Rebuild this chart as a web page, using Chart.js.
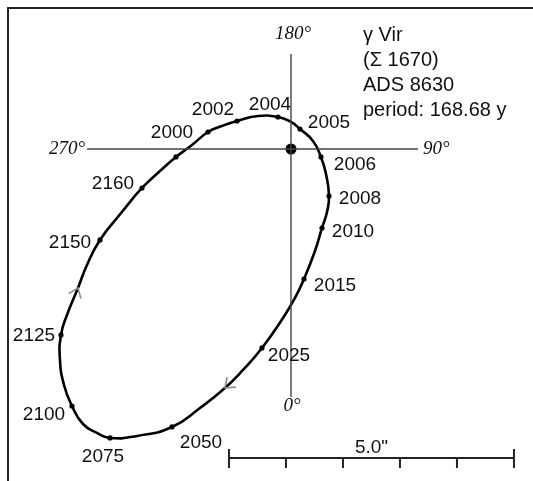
<!DOCTYPE html>
<html>
<head>
<meta charset="utf-8">
<script src="https://cdn.jsdelivr.net/npm/chart.js@4.4.0/dist/chart.umd.min.js"></script>
<style>
    body { margin: 0; background: #fff; }
    #wrap { position: relative; width: 533px; height: 481px; }
</style>
</head>
<body>
<div id="wrap"><canvas id="orbitChart"></canvas></div>
<script>
// companion positions in arcsec from the primary (x toward 90°, y toward 180°)
var years = ['2000', '2002', '2004', '2005', '2006', '2008', '2010', '2015', '2025', '2050', '2075', '2100', '2125', '2150', '2160', ''];
var sepX = [-1.456, -0.947, -0.228, 0.158, 0.526, 0.667, 0.544, 0.228, -0.509, -2.088, -3.175, -3.842, -4.035, -3.351, -2.614, -2.018];
var sepY = [0.298, 0.491, 0.561, 0.351, -0.140, -0.825, -1.386, -2.281, -3.491, -4.877, -5.070, -4.509, -3.263, -1.596, -0.684, -0.140];

// outline of the apparent orbit
var orbitX = [-2.982, -2.614, -2.298, -2.018, -1.737, -1.456, -1.211, -0.947, -0.579, -0.228, 0.000, 0.158, 0.386, 0.526, 0.614, 0.667, 0.632, 0.544, 0.421, 0.228,
              0.070, -0.140, -0.509, -0.842, -1.158, -1.596, -2.088, -2.702, -3.175, -3.404, -3.649, -3.842, -3.982, -4.053, -4.035, -3.930, -3.737, -3.579, -3.351, -2.982];
var orbitY = [-1.123, -0.684, -0.386, -0.140, 0.070, 0.298, 0.404, 0.491, 0.579, 0.561, 0.474, 0.351, 0.140, -0.140, -0.439, -0.825, -1.105, -1.386, -1.789, -2.281,
              -2.614, -2.965, -3.491, -3.877, -4.193, -4.544, -4.877, -5.035, -5.070, -4.982, -4.825, -4.509, -4.140, -3.702, -3.263, -2.912, -2.439, -2.035, -1.596, -1.123];

// position-angle cross and scale bar (arcsec)
var crossV = [1.667, -4.351];
var crossH = [-3.579, 2.228];
var barStart = -1.088;
var barY = -5.421;
var barTicks = [0, 1, 2, 3, 4, 5];
var angleLabels = ['180°', '270°', '90°', '0°'];
var infoLines = ['γ Vir', '(Σ 1670)', 'ADS 8630', 'period: 168.68 y'];

// where direction arrows sit on the outline
var arrowIdx = [24, 36];

// label offsets from their dots, px
var labelDx = [-36, -24, -8, 29, 34, 31, 31, 31, 27, 29, -7, -28, -27, -30, -29, 0];
var labelDy = [0, -12, -13, -7, 7, 2, 3, 6, 7, 15, 18, 8, 0, 2, -5, 0];

function pts(xs, ys) {
    return xs.map(function (x, i) { return { x: x, y: ys[i] }; });
}

var decor = {
    id: 'decor',
    afterDatasetsDraw: function (chart) {
        var ctx = chart.ctx;
        var sx = chart.scales.x, sy = chart.scales.y;
        ctx.save();

        // frame
        ctx.strokeStyle = '#222';
        ctx.lineWidth = 2;
        ctx.strokeRect(8, 8, 700, 700);

        // year labels
        ctx.fillStyle = '#111';
        ctx.font = '19px "Liberation Sans", Arial, sans-serif';
        ctx.textAlign = 'center';
        ctx.textBaseline = 'middle';
        years.forEach(function (yr, i) {
            if (!yr) return;
            ctx.fillText(yr, sx.getPixelForValue(sepX[i]) + labelDx[i], sy.getPixelForValue(sepY[i]) + labelDy[i] + 1);
        });

        // angle labels
        ctx.font = 'italic 19px "Liberation Serif", "Times New Roman", serif';
        var cx = sx.getPixelForValue(0), cy = sy.getPixelForValue(0);
        ctx.fillText(angleLabels[0], cx + 2, sy.getPixelForValue(crossV[0]) - 20);
        ctx.fillText(angleLabels[3], cx + 1, sy.getPixelForValue(crossV[1]) + 9);
        ctx.textAlign = 'right';
        ctx.fillText(angleLabels[1], sx.getPixelForValue(crossH[0]) - 2, cy);
        ctx.textAlign = 'left';
        ctx.fillText(angleLabels[2], sx.getPixelForValue(crossH[1]) + 5, cy);

        // info block
        ctx.font = '20px "Liberation Sans", Arial, sans-serif';
        ctx.textBaseline = 'alphabetic';
        infoLines.forEach(function (t, i) {
            ctx.fillText(t, 363, 41 + i * 25);
        });

        // scale bar ticks and label
        ctx.strokeStyle = '#222';
        ctx.lineWidth = 2;
        var by = sy.getPixelForValue(barY);
        barTicks.forEach(function (t, i) {
            var bx = sx.getPixelForValue(barStart + t);
            var end = (i === 0 || i === barTicks.length - 1);
            ctx.beginPath();
            ctx.moveTo(bx, end ? by - 9 : by);
            ctx.lineTo(bx, by + 10);
            ctx.stroke();
        });
        ctx.font = '19px "Liberation Sans", Arial, sans-serif';
        ctx.textAlign = 'center';
        ctx.textBaseline = 'middle';
        ctx.fillStyle = '#111';
        ctx.fillText('5.0"', sx.getPixelForValue(barStart + 2.5), by - 10);

        // direction arrows
        ctx.strokeStyle = '#8a8a8a';
        ctx.lineWidth = 1.6;
        arrowIdx.forEach(function (k) {
            var x = sx.getPixelForValue(orbitX[k]), y = sy.getPixelForValue(orbitY[k]);
            var ax = sx.getPixelForValue(orbitX[k - 1]), ay = sy.getPixelForValue(orbitY[k - 1]);
            var bx = sx.getPixelForValue(orbitX[k + 1]), by2 = sy.getPixelForValue(orbitY[k + 1]);
            var ang = Math.atan2(by2 - ay, bx - ax);
            var len = 11, spread = 0.65;
            ctx.beginPath();
            ctx.moveTo(x - len * Math.cos(ang - spread), y - len * Math.sin(ang - spread));
            ctx.lineTo(x, y);
            ctx.lineTo(x - len * Math.cos(ang + spread), y - len * Math.sin(ang + spread));
            ctx.stroke();
        });

        ctx.restore();
    }
};

var ctx = document.getElementById('orbitChart').getContext('2d');
var orbitChart = new Chart(ctx, {
    type: 'scatter',
    data: {
        datasets: [
            {
                data: [{ x: 0, y: crossV[0] }, { x: 0, y: crossV[1] }],
                showLine: true, borderColor: '#444', borderWidth: 1.4, pointRadius: 0
            },
            {
                data: [{ x: crossH[0], y: 0 }, { x: crossH[1], y: 0 }],
                showLine: true, borderColor: '#444', borderWidth: 1.4, pointRadius: 0
            },
            {
                data: pts(orbitX, orbitY),
                showLine: true, borderColor: '#000', borderWidth: 2.6, pointRadius: 0, tension: 0.5
            },
            {
                data: pts(sepX, sepY),
                pointRadius: 2.6, pointBackgroundColor: '#000', pointBorderWidth: 0
            },
            {
                data: [{ x: 0, y: 0 }],
                pointRadius: 5.5, pointBackgroundColor: '#000', pointBorderWidth: 0
            },
            {
                data: [{ x: barStart, y: barY }, { x: barStart + barTicks[barTicks.length - 1], y: barY }],
                showLine: true, borderColor: '#222', borderWidth: 2, pointRadius: 0
            }
        ]
    },
    options: {
        responsive: true,
        maintainAspectRatio: false,
        animation: false,
        events: [],
        layout: { padding: 0, autoPadding: false },
        plugins: { legend: { display: false }, tooltip: { enabled: false } },
        scales: {
            x: { type: 'linear', min: -5.105, max: 4.246, display: false },
            y: { type: 'linear', min: -5.825, max: 2.614, display: false }
        }
    },
    plugins: [decor]
});
</script>
</body>
</html>
